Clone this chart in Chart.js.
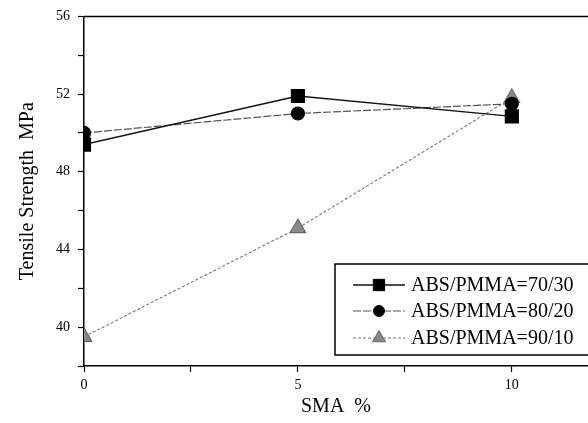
<!DOCTYPE html>
<html>
<head>
<meta charset="utf-8">
<script src="https://cdn.jsdelivr.net/npm/chart.js@4/dist/chart.umd.min.js"></script>
<style>
  html, body { margin: 0; padding: 0; background: #fff; }
  #wrap { width: 588px; height: 423px; }
</style>
</head>
<body>
<div id="wrap"><canvas id="c"></canvas></div>
<script>
// data
var smaLevels = [0, 5, 10];
var abs7030 = [49.4, 51.9, 50.85];
var abs8020 = [50.0, 51.0, 51.5];
var abs9010 = [39.5, 45.1, 51.8];
var seriesLabels = ['ABS/PMMA=70/30', 'ABS/PMMA=80/20', 'ABS/PMMA=90/10'];
var xTickValues = [0, 2.5, 5, 7.5, 10];
var xTickLabels = [0, 5, 10];
var yTickLabels = [40, 44, 48, 52, 56];

var serif = "'Liberation Serif', 'DejaVu Serif', serif";

function pts(vals) {
  return vals.map(function(v, i) { return {x: smaLevels[i], y: v}; });
}

// box legend inside the plot + top frame line
var framePlugin = {
  id: 'frame',
  afterDraw: function(chart) {
    var ctx = chart.ctx, a = chart.chartArea;
    ctx.save();
    ctx.strokeStyle = '#000';
    ctx.lineWidth = 1.5;
    ctx.beginPath();
    ctx.moveTo(a.left, a.top);
    ctx.lineTo(a.right, a.top);
    ctx.stroke();

    // legend box
    var bx = 335, by = 264, bw = 270, bh = 91;
    ctx.fillStyle = '#fff';
    ctx.fillRect(bx, by, bw, bh);
    ctx.strokeRect(bx, by, bw, bh);

    var rows = [285, 311, 338];
    chart.data.datasets.forEach(function(ds, i) {
      var y = rows[i];
      ctx.save();
      ctx.strokeStyle = ds.borderColor;
      ctx.lineWidth = ds.borderWidth;
      ctx.setLineDash(ds.borderDash || []);
      ctx.beginPath();
      ctx.moveTo(353, y);
      ctx.lineTo(405, y);
      ctx.stroke();
      ctx.restore();
      ctx.save();
      ctx.fillStyle = ds.pointBackgroundColor;
      ctx.strokeStyle = ds.pointBorderColor;
      ctx.lineWidth = 1;
      Chart.helpers.drawPoint(ctx, {pointStyle: ds.pointStyle, radius: ds.legendRadius, borderWidth: 1}, 379, y);
      ctx.restore();
      ctx.fillStyle = '#000';
      ctx.font = '20px ' + serif;
      ctx.textBaseline = 'middle';
      ctx.textAlign = 'left';
      ctx.fillText(ds.label, 411, y + 1);
    });
    ctx.restore();
  }
};

new Chart(document.getElementById('c'), {
  type: 'scatter',
  data: {
    datasets: [
      {
        label: seriesLabels[0], data: pts(abs7030), showLine: true,
        borderColor: '#111', borderWidth: 1.4,
        pointStyle: 'rect', pointRadius: 9, legendRadius: 8,
        pointBackgroundColor: '#000', pointBorderColor: '#000'
      },
      {
        label: seriesLabels[1], data: pts(abs8020), showLine: true,
        borderColor: '#555', borderWidth: 1.2, borderDash: [8, 2],
        pointStyle: 'circle', pointRadius: 6.5, legendRadius: 5.5,
        pointBackgroundColor: '#000', pointBorderColor: '#000'
      },
      {
        label: seriesLabels[2], data: pts(abs9010), showLine: true,
        borderColor: '#777', borderWidth: 1.1, borderDash: [3, 2],
        pointStyle: 'triangle', pointRadius: 9, legendRadius: 7.5,
        pointBackgroundColor: '#8a8a8a', pointBorderColor: '#666'
      }
    ]
  },
  options: {
    responsive: true,
    maintainAspectRatio: false,
    animation: false,
    layout: { autoPadding: false, padding: { top: 15, right: 0, bottom: 0, left: 0 } },
    plugins: { legend: { display: false }, tooltip: { enabled: false } },
    scales: {
      x: {
        type: 'linear', min: 0, max: 11.78,
        afterFit: function(s) { s.height = 57; },
        afterBuildTicks: function(s) {
          s.ticks = xTickValues.map(function(v) { return {value: v}; });
        },
        ticks: {
          color: '#000', padding: 5,
          font: { family: serif, size: 14 },
          maxRotation: 0, autoSkip: false,
          callback: function(v) { return xTickLabels.indexOf(v) >= 0 ? String(v) : ''; }
        },
        grid: { drawOnChartArea: false, drawTicks: true, tickLength: 6, color: '#000', tickWidth: 1.2 },
        border: { display: true, color: '#000', width: 1.5 },
        title: {
          display: true, text: 'SMA  %', color: '#000',
          font: { family: serif, size: 20 },
          padding: { top: 4, bottom: 4 }
        }
      },
      y: {
        min: 38, max: 56,
        afterFit: function(s) { s.width = 84; },
        ticks: {
          stepSize: 2, color: '#000', padding: 8,
          font: { family: serif, size: 14 },
          callback: function(v) { return yTickLabels.indexOf(v) >= 0 ? String(v) : ''; }
        },
        grid: { drawOnChartArea: false, drawTicks: true, tickLength: 6, color: '#000', tickWidth: 1.2 },
        border: { display: true, color: '#000', width: 1.5 },
        title: {
          display: true, text: 'Tensile Strength  MPa', color: '#000',
          font: { family: serif, size: 20 },
          padding: { top: 16, bottom: 0 }
        }
      }
    }
  },
  plugins: [framePlugin]
});
</script>
</body>
</html>
